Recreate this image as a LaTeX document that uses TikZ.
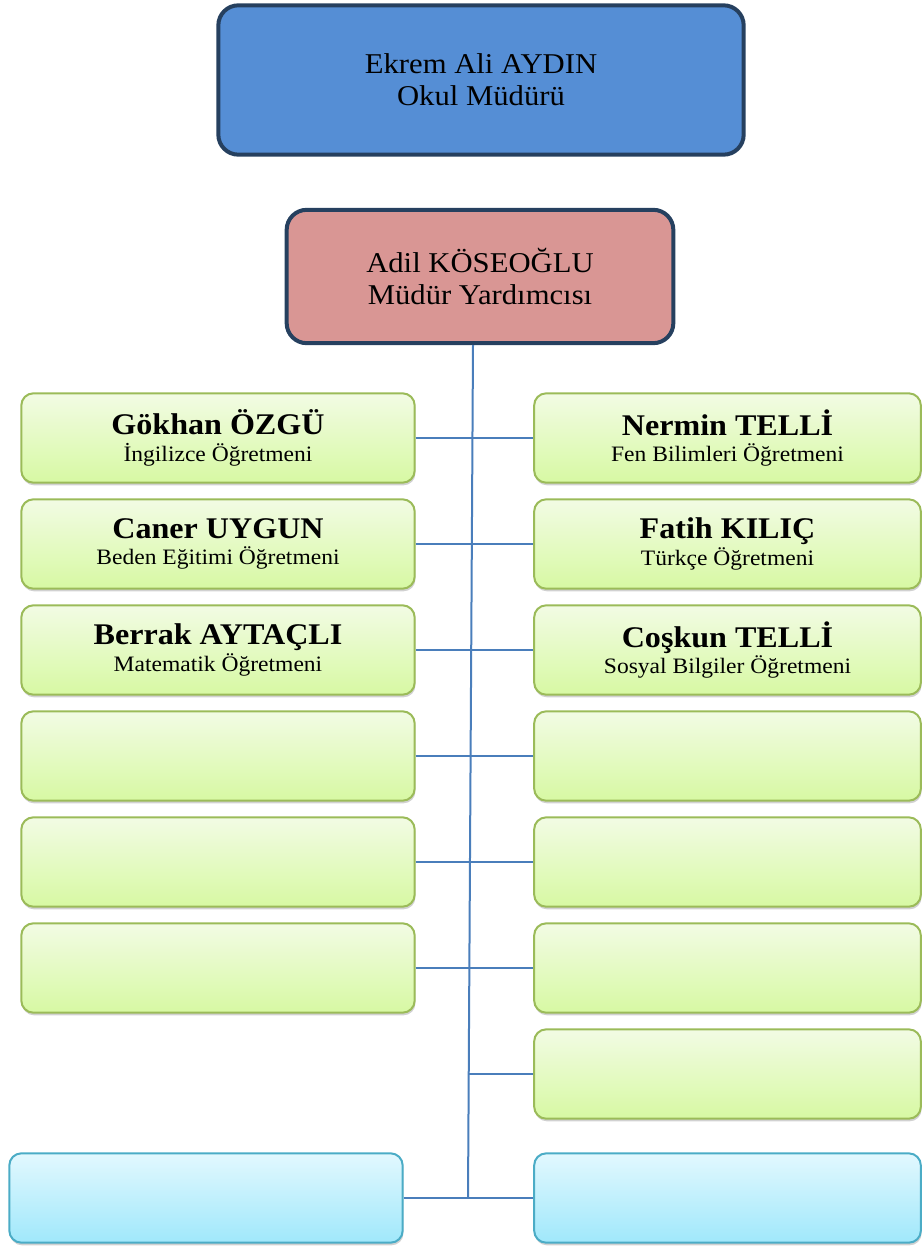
\documentclass[tikz,border=0pt]{standalone}
\usepackage{fontspec}
\setmainfont[FakeStretch=1.07]{Liberation Serif}
\usepackage{tikz}
\usetikzlibrary{positioning, shadows}
\definecolor{mudurcol}{HTML}{558ED5}
\definecolor{yardcol}{HTML}{D99694}
\definecolor{cercevecol}{HTML}{26405F}
\definecolor{yesilust}{HTML}{F2FBE4}
\definecolor{yesilalt}{HTML}{D7F9A3}
\definecolor{yesilcer}{HTML}{9BBB59}
\definecolor{maviust}{HTML}{E2F8FE}
\definecolor{mavialt}{HTML}{A0E8FB}
\definecolor{mavicer}{HTML}{4BACC6}
\definecolor{hatcol}{HTML}{4A7EBB}
\newcommand{\adsoyad}[1]{{\fontsize{22.5}{24}\selectfont\bfseries #1}}
\tikzset{
	% yönetici kutusu (müdür, müdür yardımcısı)
	yonetici/.style={draw=cercevecol, line width=3pt, rounded corners=15pt, align=center,
	                 font=\fontsize{21.5}{24}\selectfont},
	% öğretmen kutusu (yeşil)
	ogretmen/.style={draw=yesilcer, line width=1.5pt, rounded corners=9pt, top color=yesilust,
	                 bottom color=yesilalt, minimum width=295pt, minimum height=67pt, align=center,
	                 font=\fontsize{16.5}{20}\selectfont,
	                 drop shadow={shadow xshift=0.6pt, shadow yshift=-2pt, fill=black, opacity=0.18}},
	% personel kutusu (mavi)
	personel/.style={ogretmen, draw=mavicer, top color=maviust, bottom color=mavialt},
	% bağlantı çizgisi
	baglanti/.style={draw=hatcol, line width=1.5pt},
}

\begin{document}
\begin{tikzpicture}[x=0.75pt, y=-0.75pt]
    \useasboundingbox (0,0) rectangle (922,1248);

    % ---------------- yönetim ----------------
    \node[yonetici, fill=mudurcol, minimum width=394pt, minimum height=112pt] (mudur) at (481,80)
        {Ekrem Ali AYDIN\\Okul Müdürü};
    \node[yonetici, fill=yardcol, minimum width=290pt, minimum height=100pt] (yard) at (480,276.5)
        {Adil KÖSEOĞLU\\Müdür Yardımcısı};

    % ---------------- sol sütun ----------------
    \node[ogretmen] (sol1) at (218,438) {\adsoyad{Gökhan ÖZGÜ}\\İngilizce Öğretmeni};
    \node[ogretmen] (sol2) at (218,544) {\adsoyad{Caner UYGUN}\\Beden Eğitimi Öğretmeni};
    \node[ogretmen] (sol3) at (218,650) {\adsoyad{Berrak AYTAÇLI}\\Matematik Öğretmeni};
    \node[ogretmen] (sol4) at (218,756) {};
    \node[ogretmen] (sol5) at (218,862) {};
    \node[ogretmen] (sol6) at (218,968) {};

    % ---------------- sağ sütun ----------------
    \node[ogretmen, minimum width=290pt] (sag1) at (727.5,438) {\adsoyad{Nermin TELLİ}\\Fen Bilimleri Öğretmeni};
    \node[ogretmen, minimum width=290pt] (sag2) at (727.5,544) {\adsoyad{Fatih KILIÇ}\\Türkçe Öğretmeni};
    \node[ogretmen, minimum width=290pt] (sag3) at (727.5,650) {\adsoyad{Coşkun TELLİ}\\Sosyal Bilgiler Öğretmeni};
    \node[ogretmen, minimum width=290pt] (sag4) at (727.5,756) {};
    \node[ogretmen, minimum width=290pt] (sag5) at (727.5,862) {};
    \node[ogretmen, minimum width=290pt] (sag6) at (727.5,968) {};
    \node[ogretmen, minimum width=290pt] (sag7) at (727.5,1074) {};

    % ---------------- personel ----------------
    \node[personel] (mavi1) at (206,1198) {};
    \node[personel, minimum width=290pt] (mavi2) at (727.5,1198) {};

    % ---------------- bağlantılar ----------------
    \coordinate (govdeust) at (473,345);
    \coordinate (govdealt) at (468,1198);
    \draw[baglanti] (govdeust) -- (govdealt);
    \draw[baglanti] (sol1.east) -- (sag1.west);
    \draw[baglanti] (sol2.east) -- (sag2.west);
    \draw[baglanti] (sol3.east) -- (sag3.west);
    \draw[baglanti] (sol4.east) -- (sag4.west);
    \draw[baglanti] (sol5.east) -- (sag5.west);
    \draw[baglanti] (sol6.east) -- (sag6.west);
    \draw[baglanti] (sag7.west) -- (sag7.west -| govdealt);
    \draw[baglanti] (mavi1.east) -- (mavi2.west);
\end{tikzpicture}
\end{document}
